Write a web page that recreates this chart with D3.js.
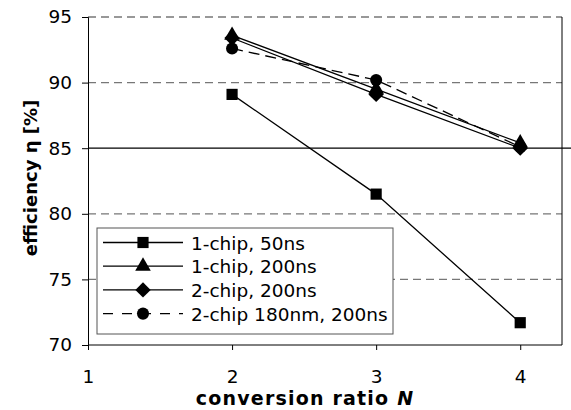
<!DOCTYPE html>
<html>
<head>
<meta charset="utf-8">
<script src="https://cdn.jsdelivr.net/npm/d3@7"></script>
<style>
  body { margin: 0; background: #fff; }
  text { font-family: "DejaVu Sans", sans-serif; }
</style>
</head>
<body>
<svg id="chart"></svg>
<script>
const ratios = [2, 3, 4];
const chip1_50ns = [89.1, 81.5, 71.7];
const chip1_200ns = [93.6, 89.5, 85.4];
const chip2_200ns = [93.4, 89.1, 85.0];
const chip2_180nm = [92.6, 90.2, 85.1];
const xTicks = [1, 2, 3, 4];
const yTicks = [70, 75, 80, 85, 90, 95];

const size = { width: 571, height: 410 };
const margin = { top: 17, right: 9, bottom: 65, left: 88 };

const series = [
  { name: "1-chip, 50ns", values: chip1_50ns, symbol: d3.symbolSquare, area: 125, dash: null },
  { name: "1-chip, 200ns", values: chip1_200ns, symbol: d3.symbolTriangle, area: 105, dash: null },
  { name: "2-chip, 200ns", values: chip2_200ns, symbol: d3.symbolDiamond2 || d3.symbolDiamond, area: 150, dash: null },
  { name: "2-chip 180nm, 200ns", values: chip2_180nm, symbol: d3.symbolCircle, area: 115, dash: "11,6" }
];

const svg = d3.select("#chart").attr("width", size.width).attr("height", size.height);

const x = d3.scaleLinear().domain([1, 4.29]).range([margin.left, size.width - margin.right]);
const y = d3.scaleLinear().domain([70, 95]).range([size.height - margin.bottom, margin.top]);

// grid lines (85 is a solid reference line running past the frame)
yTicks.filter((v) => v !== 70).forEach((v) => {
  svg.append("line")
    .attr("x1", margin.left).attr("x2", v === 85 ? size.width : size.width - margin.right)
    .attr("y1", y(v)).attr("y2", y(v))
    .attr("stroke", v === 85 ? "#000" : "#777")
    .attr("stroke-width", v === 85 ? 1.2 : 1.3)
    .attr("stroke-dasharray", v === 85 ? null : "8,5");
});

// right frame
svg.append("line")
  .attr("x1", size.width - margin.right).attr("x2", size.width - margin.right)
  .attr("y1", y(95)).attr("y2", y(70))
  .attr("stroke", "#000").attr("stroke-width", 1);

// axes
svg.append("g")
  .attr("transform", `translate(0,${y(70)})`)
  .call(d3.axisBottom(x).tickValues(xTicks).tickFormat(d3.format("d")).tickSize(5).tickPadding(20))
  .call((g) => g.select(".domain").attr("d", `M${margin.left},0H${size.width - margin.right}`))
  .style("font-size", "18.5px");

svg.append("g")
  .attr("transform", `translate(${margin.left},0)`)
  .call(d3.axisLeft(y).tickValues(yTicks).tickSize(6).tickPadding(10))
  .style("font-size", "18.5px");

svg.selectAll(".tick text").attr("fill", "#000").style("font-family", "DejaVu Sans, sans-serif");

// lines + markers
const line = d3.line().x((d, i) => x(ratios[i])).y((d) => y(d));
series.forEach((s) => {
  svg.append("path")
    .datum(s.values)
    .attr("d", line)
    .attr("fill", "none")
    .attr("stroke", "#000")
    .attr("stroke-width", 1.3)
    .attr("stroke-dasharray", s.dash);
  svg.append("g")
    .selectAll("path")
    .data(s.values)
    .join("path")
    .attr("transform", (d, i) => `translate(${x(ratios[i])},${y(d)})`)
    .attr("d", d3.symbol(s.symbol, s.area));
});

// legend
const legend = svg.append("g").attr("transform", "translate(97,228)");
legend.append("rect")
  .attr("width", 296).attr("height", 106)
  .attr("fill", "#fff").attr("stroke", "#555").attr("stroke-width", 1);
series.forEach((s, i) => {
  const row = legend.append("g").attr("transform", `translate(0,${14.5 + i * 23.7})`);
  row.append("line")
    .attr("x1", 6).attr("x2", 86)
    .attr("stroke", "#000").attr("stroke-width", 1.3)
    .attr("stroke-dasharray", s.dash ? "10,9" : null);
  row.append("path")
    .attr("transform", "translate(46,0)")
    .attr("d", d3.symbol(s.symbol, s.area));
  row.append("text")
    .attr("x", 94).attr("y", 7)
    .style("font-size", "18.5px")
    .text(s.name);
});

// axis titles
svg.append("text")
  .attr("x", 305)
  .attr("y", 405)
  .attr("text-anchor", "middle")
  .style("font-size", "19px").style("font-weight", "bold")
  .style("letter-spacing", "1.2px")
  .text("conversion ratio ")
  .append("tspan").style("font-style", "italic").text("N");

svg.append("text")
  .attr("transform", "translate(37,178) rotate(-90)")
  .attr("text-anchor", "middle")
  .style("font-size", "18px").style("font-weight", "bold")
  .text("efficiency η [%]");
</script>
</body>
</html>
